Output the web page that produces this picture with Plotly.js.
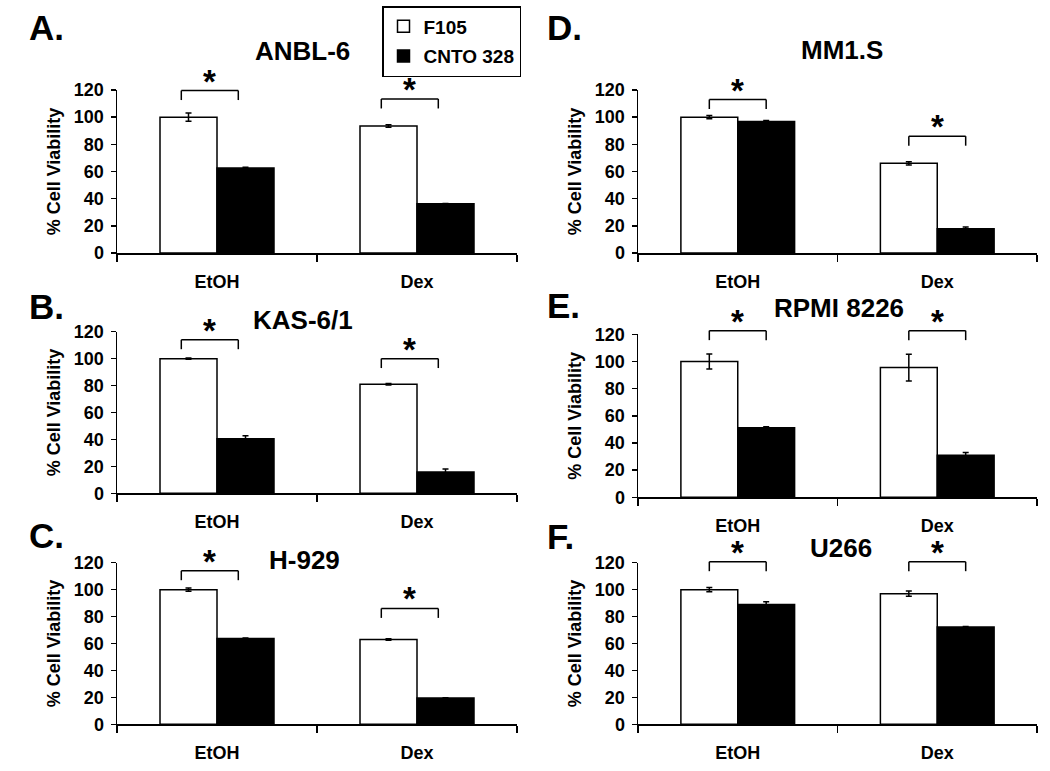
<!DOCTYPE html>
<html><head><meta charset="utf-8">
<script src="https://cdn.plot.ly/plotly-3.0.1.min.js"></script>
<style>html,body{margin:0;padding:0;background:#fff}</style>
</head><body>
<div id="chart" style="width:1050px;height:771px"></div>
<script>
// ---- data ----
const categories = ['EtOH', 'Dex'];
const seriesNames = ['F105', 'CNTO 328'];
const panelLetters = ['A.', 'B.', 'C.', 'D.', 'E.', 'F.'];
const cellLines = ['ANBL-6', 'KAS-6/1', 'H-929', 'MM1.S', 'RPMI 8226', 'U266'];
const f105 = [[100, 93.5], [100, 81], [100, 63], [100, 66], [100, 95.5], [100, 97]];
const f105Err = [[3, 1], [0.5, 0.5], [1.2, 0.6], [1.2, 1.2], [5.5, 9.8], [1.5, 2]];
const cnto328 = [[62.5, 36.2], [40.5, 15.8], [63.8, 19.5], [96.8, 17.9], [51.2, 31], [89, 72.3]];
const cnto328Err = [[0.6, 0.3], [2.3, 2.2], [0.3, 0.3], [0.8, 1.3], [0.8, 2], [2, 0.3]];
const bracketTop = [[119.6, 113.4], [114, 100], [114, 86], [113, 86], [122.7, 122.7], [120.7, 120.7]];
const yTicks = [0, 20, 40, 60, 80, 100, 120];

// ---- geometry / style ----
const W = 1050, H = 771;
const FONT = 'Liberation Sans, Arial, sans-serif';
const xDom = [[117 / W, 517 / W], [638 / W, 1037 / W]];
const yDomPx = [[90, 253], [331.7, 493.3], [562.7, 724.3], [90, 253], [334.3, 497.3], [562.7, 724.3]];
const panelCol = [0, 0, 0, 1, 1, 1];
const letterPos = [[27, 27.5], [27, 307], [27, 535], [545, 28], [545, 306], [545, 536]];
const titlePos = [[302, 51], [303, 320], [304, 560], [842, 50], [839, 308], [841, 548]];
const bracketShift = [-0.036, 0];
const bargap = 0.43;
const half = (1 - bargap) / 4;
const legDrop = 7;

const traces = [];
const layout = {
  width: W, height: H,
  margin: {l: 0, r: 0, t: 0, b: 0},
  paper_bgcolor: 'white', plot_bgcolor: 'white',
  barmode: 'group', bargap: bargap, bargroupgap: 0,
  font: {family: FONT, color: 'black'},
  showlegend: true,
  legend: {
    x: 382 / W, y: 1 - 6 / H, xanchor: 'left', yanchor: 'top',
    bordercolor: 'black', borderwidth: 1.5, bgcolor: 'white',
    font: {family: FONT, size: 19, weight: 'bold', color: 'black'},
    tracegroupgap: 2
  },
  annotations: [], shapes: []
};

for (let p = 0; p < 6; p++) {
  const s = p === 0 ? '' : String(p + 1);
  const col = panelCol[p];
  const yd = [1 - yDomPx[p][1] / H, 1 - yDomPx[p][0] / H];
  traces.push({
    type: 'bar', x: categories, y: f105[p], name: seriesNames[0],
    legendgroup: 'f105', showlegend: p === 0,
    marker: {color: 'white', line: {color: 'black', width: 1.5}},
    error_y: {type: 'data', array: f105Err[p], color: 'black', thickness: 1.5, width: 3},
    xaxis: 'x' + s, yaxis: 'y' + s, hoverinfo: 'skip'
  });
  traces.push({
    type: 'bar', x: categories, y: cnto328[p], name: seriesNames[1],
    legendgroup: 'cnto', showlegend: p === 0,
    marker: {color: 'black', line: {color: 'black', width: 1.5}},
    error_y: {type: 'data', array: cnto328Err[p], color: 'black', thickness: 1.5, width: 3},
    xaxis: 'x' + s, yaxis: 'y' + s, hoverinfo: 'skip'
  });
  layout['xaxis' + s] = {
    domain: xDom[col], anchor: 'y' + s, type: 'category', range: [-0.5, 1.5],
    showline: true, linecolor: 'black', linewidth: 1.5,
    ticks: 'outside', tickson: 'boundaries', ticklen: 7, tickwidth: 1.5, tickcolor: 'black',
    tickfont: {family: FONT, size: 18, weight: 'bold', color: 'black'},
    ticklabelstandoff: 12, showgrid: false, zeroline: false, fixedrange: true
  };
  layout['yaxis' + s] = {
    domain: yd, anchor: 'x' + s, range: [0, 120], tickvals: yTicks,
    showline: true, linecolor: 'black', linewidth: 1.5,
    ticks: 'outside', ticklen: 5, tickwidth: 1.5, tickcolor: 'black',
    tickfont: {family: FONT, size: 18, weight: 'bold', color: 'black'},
    ticklabelstandoff: 3,
    title: {text: '% Cell Viability', font: {family: FONT, size: 18, weight: 'bold', color: 'black'}, standoff: 8},
    showgrid: false, zeroline: false, fixedrange: true
  };
  // panel letter and cell line title
  layout.annotations.push({
    xref: 'paper', yref: 'paper', x: letterPos[p][0] / W, y: 1 - letterPos[p][1] / H,
    xanchor: 'left', yanchor: 'middle', showarrow: false, text: panelLetters[p],
    font: {family: FONT, size: 35, weight: 'bold', color: 'black'}
  });
  layout.annotations.push({
    xref: 'paper', yref: 'paper', x: titlePos[p][0] / W, y: 1 - titlePos[p][1] / H,
    xanchor: 'center', yanchor: 'middle', showarrow: false, text: cellLines[p],
    font: {family: FONT, size: 26, weight: 'bold', color: 'black'}
  });
  // significance brackets
  for (let c = 0; c < categories.length; c++) {
    const xl = c - half + bracketShift[col], xr = c + half + bracketShift[col];
    const toXD = v => (v + 0.5) / 2;
    const top = bracketTop[p][c] / 120, bot = (bracketTop[p][c] - legDrop) / 120;
    const ln = {color: 'black', width: 1.5};
    const xr_ = 'x' + s + ' domain', yr_ = 'y' + s + ' domain';
    layout.shapes.push({type: 'line', xref: xr_, yref: yr_, x0: toXD(xl), x1: toXD(xl), y0: bot, y1: top, line: ln});
    layout.shapes.push({type: 'line', xref: xr_, yref: yr_, x0: toXD(xl), x1: toXD(xr), y0: top, y1: top, line: ln});
    layout.shapes.push({type: 'line', xref: xr_, yref: yr_, x0: toXD(xr), x1: toXD(xr), y0: top, y1: bot, line: ln});
    layout.annotations.push({
      xref: 'x' + s, yref: 'paper', x: c + bracketShift[col],
      y: yd[0] + (bracketTop[p][c] / 120) * (yd[1] - yd[0]),
      xanchor: 'center', yanchor: 'bottom', yshift: -11, showarrow: false, text: '*',
      font: {family: FONT, size: 33, weight: 'bold', color: 'black'}
    });
  }
}

Plotly.newPlot('chart', traces, layout, {staticPlot: true, displayModeBar: false});
</script>
</body></html>
